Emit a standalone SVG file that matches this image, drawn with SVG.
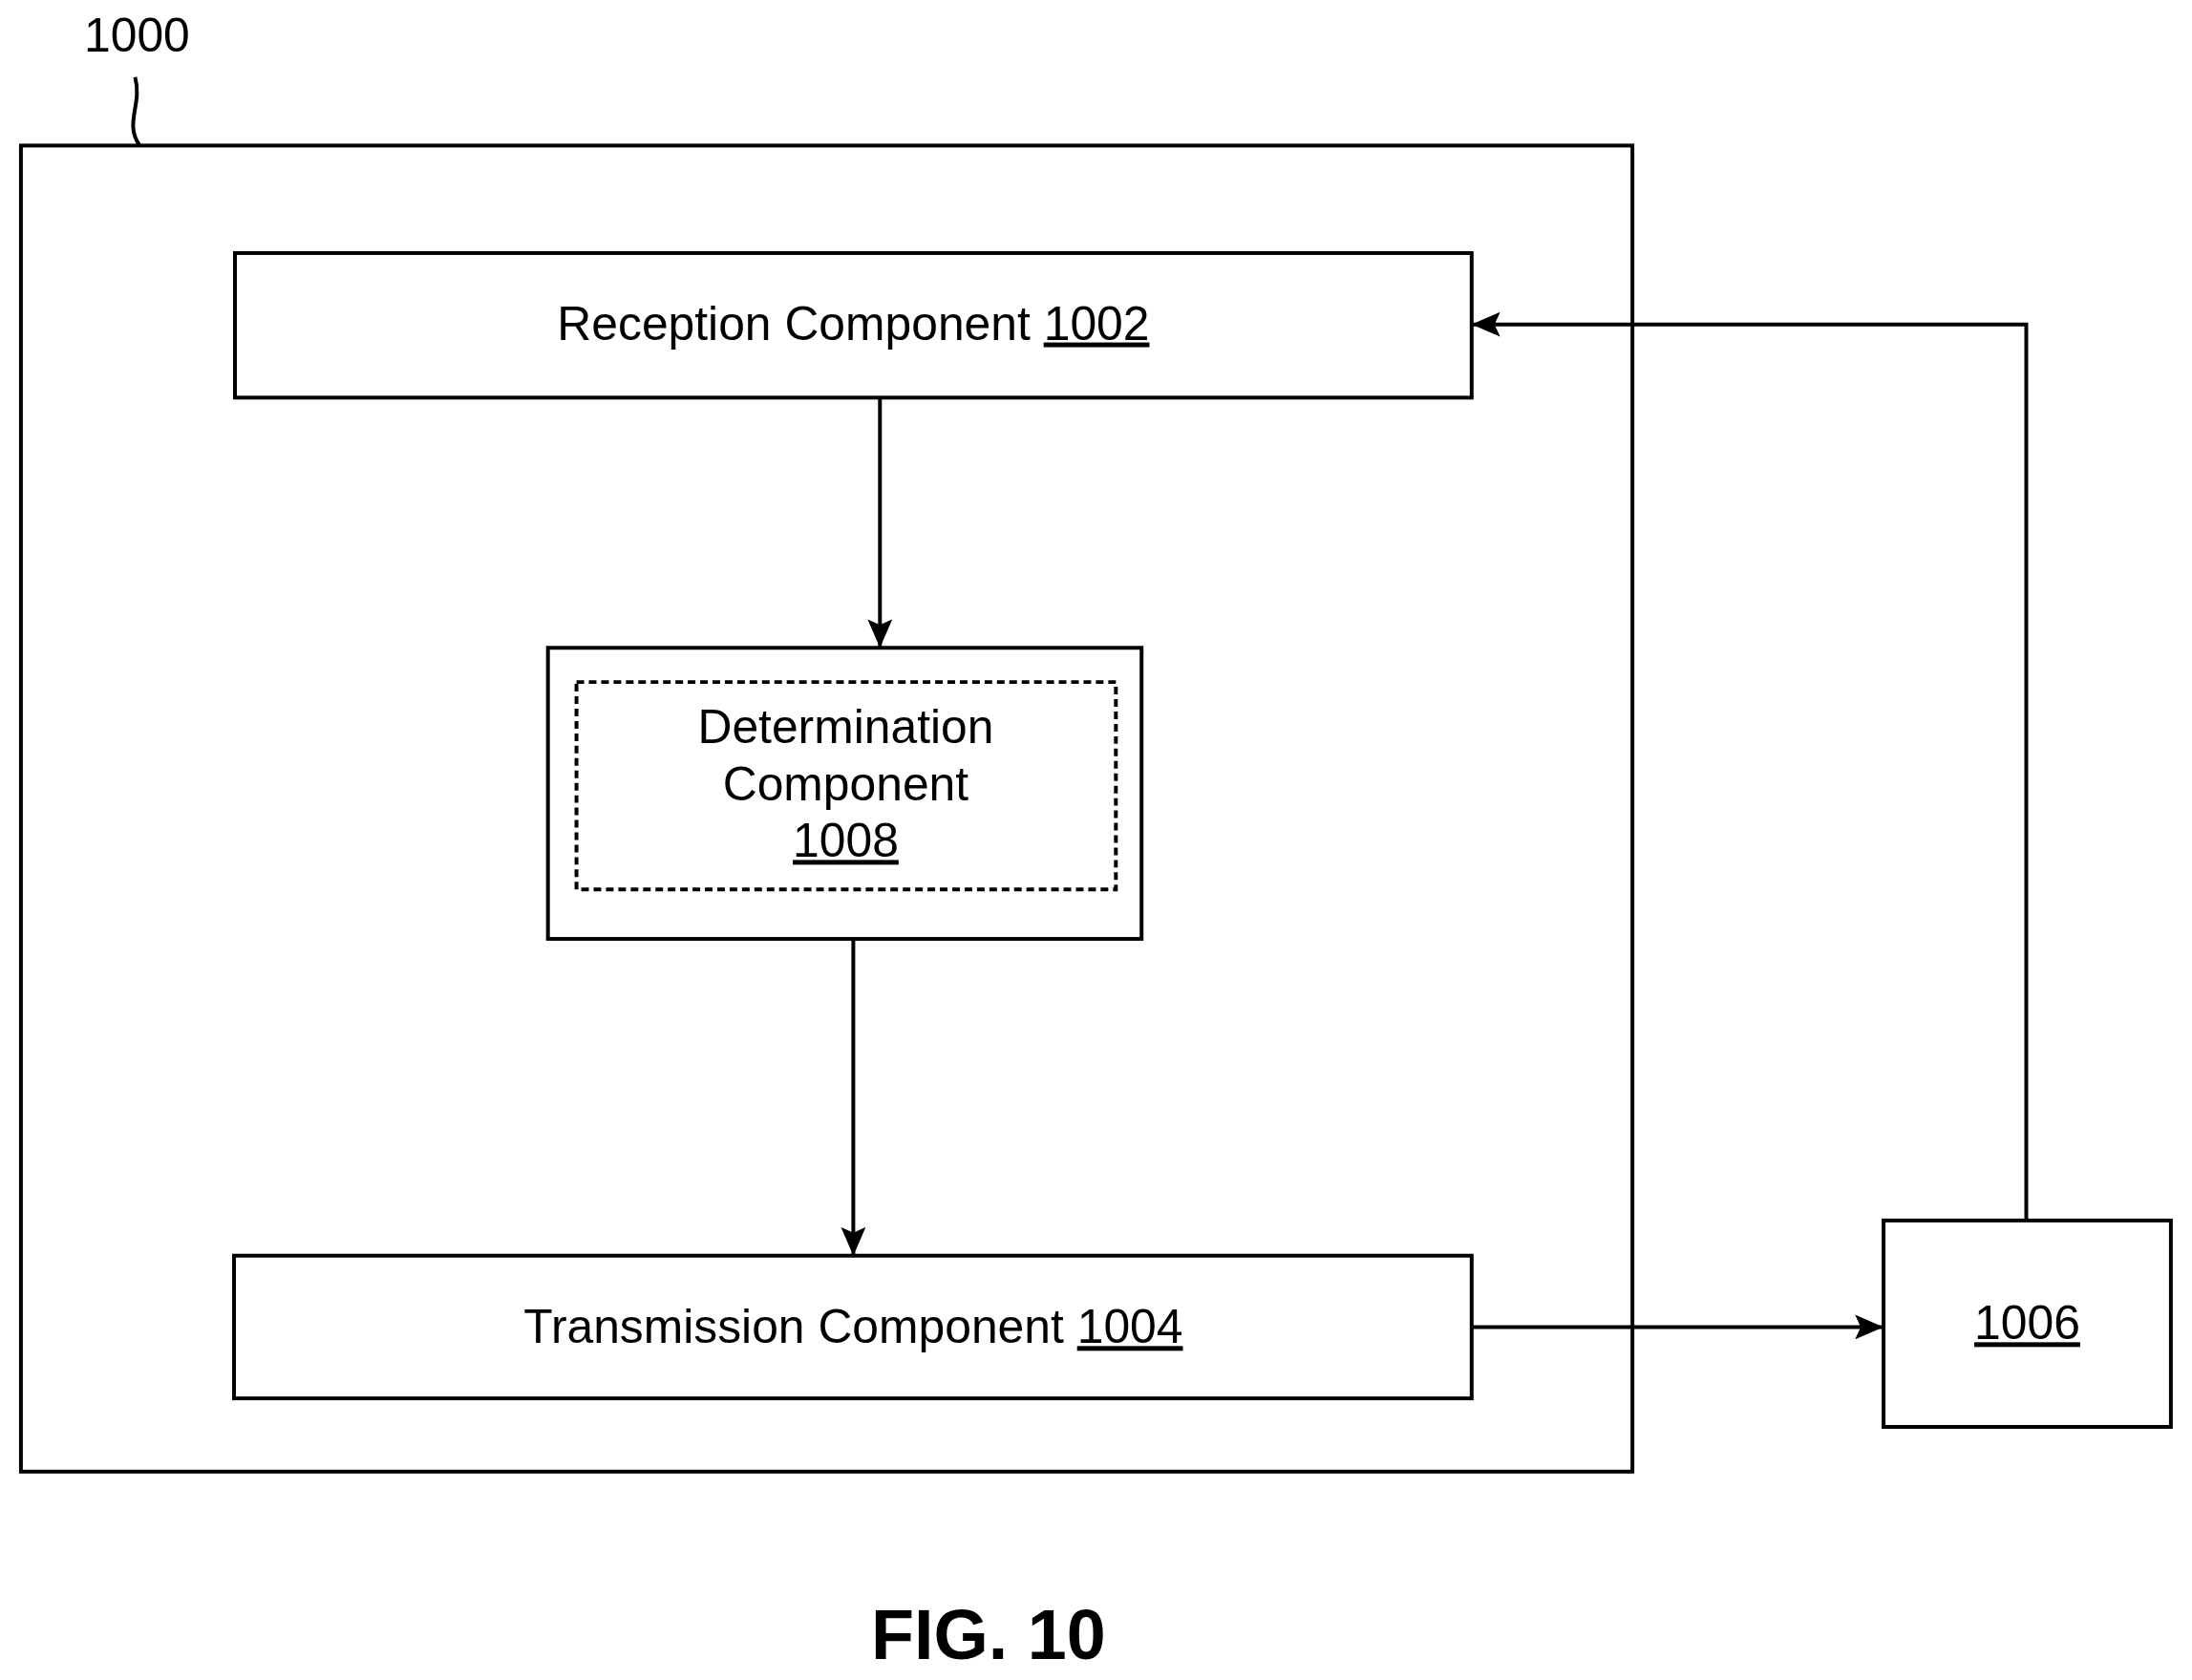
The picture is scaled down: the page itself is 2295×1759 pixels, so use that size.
<svg xmlns="http://www.w3.org/2000/svg" width="2295" height="1759" viewBox="0 0 2295 1759">
<style>
.b{fill:#fff;stroke:#000;stroke-width:4}
.t{font-family:"Liberation Sans",Arial,sans-serif;font-size:50px;fill:#000;text-anchor:middle}
.c{fill:none;stroke:#000;stroke-width:4}
</style>
<defs><marker id="a" markerWidth="30" markerHeight="26" refX="30" refY="13" orient="auto" markerUnits="userSpaceOnUse" viewBox="0 0 30 26"><path d="M0,0L30,13L0,26L6,13z"/></marker></defs>
<rect width="2295" height="1759" fill="#fff"/>
<g transform="scale(0.996)">
<g id="n1000"><rect class="b" x="22" y="153" width="1694" height="1394"/>
<text class="t" x="144" y="54">1000</text>
<path class="c" d="M147,153 C130,130 150,110 142,81" stroke-width="3"/></g>
<g id="n1002"><rect class="b" x="247" y="266" width="1300" height="152"/>
<text class="t" x="897" y="357">Reception Component <tspan text-decoration="underline">1002</tspan></text></g>
<g id="n1008"><rect class="b" x="576" y="681" width="624" height="306"/>
<rect x="606" y="717" width="567" height="218" fill="none" stroke="#000" stroke-width="4" stroke-dasharray="8,5"/>
<text class="t" x="889" y="781">Determination</text>
<text class="t" x="889" y="841">Component</text>
<text class="t" x="889" y="901" text-decoration="underline">1008</text></g>
<g id="n1004"><rect class="b" x="246" y="1320" width="1301" height="150"/>
<text class="t" x="897" y="1412">Transmission Component <tspan text-decoration="underline">1004</tspan></text></g>
<g id="n1006"><rect class="b" x="1980" y="1283" width="302" height="217"/>
<text class="t" x="2131" y="1408" text-decoration="underline">1006</text></g>
<g id="connectors">
<path class="c" d="M925,418V681" marker-end="url(#a)"/>
<path class="c" d="M897,987V1320" marker-end="url(#a)"/>
<path class="c" d="M1547,1395H1980" marker-end="url(#a)"/>
<path class="c" d="M2130,1283V341H1547" marker-end="url(#a)"/>
</g>
<text x="1039" y="1744" style="font-family:'Liberation Sans',Arial,sans-serif;font-size:74px;font-weight:bold;text-anchor:middle">FIG. 10</text>
</g>
</svg>
